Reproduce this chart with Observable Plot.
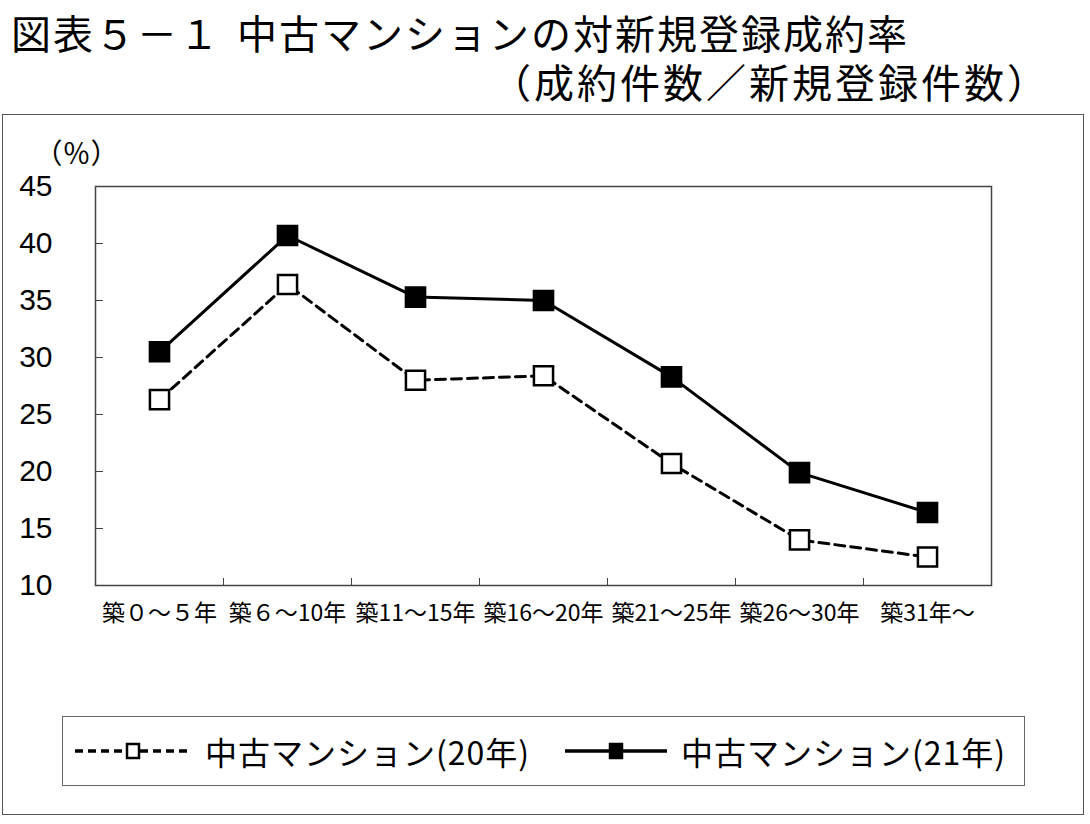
<!DOCTYPE html>
<html>
<head>
<meta charset="utf-8">
<script src="https://cdn.jsdelivr.net/npm/d3@7"></script>
<script src="https://cdn.jsdelivr.net/npm/@observablehq/plot@0.6"></script>
<style>
  html, body { margin: 0; padding: 0; background: #fff; }
  #page { position: relative; width: 1090px; height: 824px; overflow: hidden; font-family: "Noto Sans CJK JP", sans-serif; color: #000; }
  .title { position: absolute; font-size: 40px; line-height: 1; white-space: nowrap; }
  #outer { position: absolute; left: 2px; top: 114px; width: 1080px; height: 699px; border: 1.5px solid #555; }
  #chart { position: absolute; left: 0; top: 114px; }
  #legend { position: absolute; left: 62px; top: 716px; width: 961px; height: 68px; border: 1.5px solid #666; box-sizing: content-box; }
  .item { position: absolute; top: 0; height: 68px; display: flex; align-items: center; font-size: 32px; letter-spacing: 1px; white-space: nowrap; }
  .item svg { margin-right: 14px; }
</style>
</head>
<body>
<div id="page">
  <div class="title" style="left:11px; top:12px; letter-spacing:2px;">図表５－１<span style="display:inline-block;width:16px;"></span>中古マンションの対新規登録成約率</div>
  <div class="title" style="left:491px; top:61px; letter-spacing:3px;">（成約件数／新規登録件数）</div>
  <div id="outer"></div>
  <div id="chart"></div>
  <div id="legend"></div>
</div>
<script>
// ---- data ----
const ageLabels = ["築０～５年", "築６～10年", "築11～15年", "築16～20年", "築21～25年", "築26～30年", "築31年～"];
const rate20 = [26.3, 36.4, 28.0, 28.4, 20.7, 14.0, 12.5];
const rate21 = [30.5, 40.7, 35.3, 35.0, 28.3, 19.9, 16.4];
const seriesNames = ["中古マンション(20年)", "中古マンション(21年)"];
const yTicks = [10, 15, 20, 25, 30, 35, 40, 45];
const unitLabel = "（％）";

const idx = d3.range(ageLabels.length);
const d20 = idx.map(i => ({i, v: rate20[i]}));
const d21 = idx.map(i => ({i, v: rate21[i]}));
const boundaries = d3.range(ageLabels.length - 1).map(i => i + 0.5);

const chart = Plot.plot({
  width: 1090,
  height: 540,
  marginLeft: 95,
  marginRight: 99,
  marginTop: 72,
  marginBottom: 69,
  style: {fontFamily: "'Noto Sans CJK JP', sans-serif", color: "#000", background: "transparent"},
  x: {domain: [-0.5, ageLabels.length - 0.5]},
  y: {domain: [10, 45]},
  marks: [
    Plot.frame({stroke: "#444", strokeWidth: 1.5}),
    // y tick labels
    Plot.axisY({ticks: yTicks, tickSize: 0, tickPadding: 43, tickFormat: d => String(d), fontSize: 30, fontFamily: "'Liberation Sans', Arial, sans-serif", label: null}),
    // y inward ticks
    Plot.axisY({ticks: yTicks.slice(1, -1), tickSize: -8, tickFormat: () => "", stroke: "#444", label: null}),
    // x labels
    Plot.axisX({ticks: idx, tickSize: 0, tickPadding: 19, tickFormat: i => ageLabels[i], fontSize: 23, label: null}),
    // x inward ticks at category boundaries
    Plot.axisX({ticks: boundaries, tickSize: -7, tickFormat: () => "", stroke: "#444", label: null}),
    Plot.text([unitLabel], {frameAnchor: "top-left", textAnchor: "middle", lineAnchor: "middle", dx: -19, dy: -31, text: d => d, fontSize: 28}),
    Plot.line(d20, {x: "i", y: "v", stroke: "#000", strokeWidth: 3, strokeDasharray: "10,6"}),
    Plot.line(d21, {x: "i", y: "v", stroke: "#000", strokeWidth: 3}),
    Plot.dot(d20, {x: "i", y: "v", symbol: "square", r: 10.8, fill: "#fff", stroke: "#000", strokeWidth: 2.5}),
    Plot.dot(d21, {x: "i", y: "v", symbol: "square", r: 10.8, fill: "#000", stroke: "#000", strokeWidth: 2.5})
  ]
});
document.getElementById("chart").appendChild(chart);

// ---- legend ----
const legend = document.getElementById("legend");
function addItem(left, name, dashed) {
  const div = document.createElement("div");
  div.className = "item";
  div.style.left = left + "px";
  const w = dashed ? 116 : 102;
  const sw = `<svg width="${w}" height="24" viewBox="0 0 ${w} 24">
    <line x1="0" y1="12" x2="${w}" y2="12" stroke="#000" stroke-width="3.5" ${dashed ? 'stroke-dasharray="8,5"' : ''}/>
    <rect x="${w/2 - 6}" y="5" width="12" height="14" fill="${dashed ? '#fff' : '#000'}" stroke="#000" stroke-width="2.5"/>
  </svg>`;
  div.innerHTML = sw + `<span>${name}</span>`;
  legend.appendChild(div);
}
addItem(12, seriesNames[0], true);
addItem(502, seriesNames[1], false);
</script>
</body>
</html>
